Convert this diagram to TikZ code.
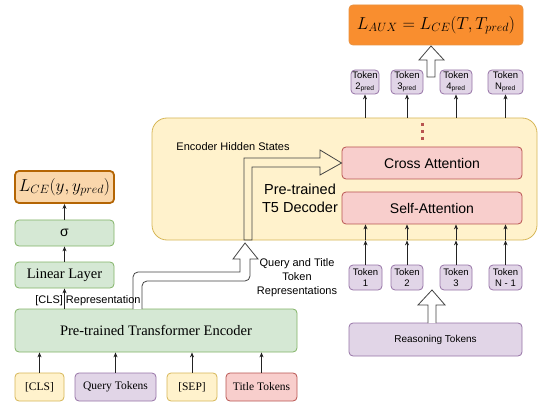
\documentclass[tikz,border=0pt]{standalone}
\usepackage{fontspec}
\setmainfont{Liberation Serif}
\setsansfont{Liberation Sans}
\usetikzlibrary{arrows.meta}
\definecolor{gfill}{HTML}{D5E8D4}\definecolor{gline}{HTML}{82B366}
\definecolor{yfill}{HTML}{FFF2CC}\definecolor{yline}{HTML}{D6B656}
\definecolor{pfill}{HTML}{E1D5E7}\definecolor{pline}{HTML}{9673A6}
\definecolor{rfill}{HTML}{F8CECC}\definecolor{rline}{HTML}{B85450}
\definecolor{ofill}{HTML}{FAD7AC}\definecolor{oline}{HTML}{B46504}
\definecolor{afill}{HTML}{F98E2F}\definecolor{aline}{HTML}{E8913F}
\definecolor{ink}{HTML}{222222}
\begin{document}
\begin{tikzpicture}[x=1pt,y=-1pt,
  base/.style={draw, rounded corners=4pt, line width=0.8pt, inner sep=0pt, align=center},
  gbox/.style={base, fill=gfill, draw=gline},
  ybox/.style={base, fill=yfill, draw=yline},
  pbox/.style={base, fill=pfill, draw=pline},
  rbox/.style={base, fill=rfill, draw=rline},
  serifbig/.style={font=\rmfamily\fontsize{14.5}{16}\selectfont},
  serifsm/.style={font=\rmfamily\fontsize{11.5}{13}\selectfont},
  sansbig/.style={font=\sffamily\fontsize{14}{16}\selectfont},
  sanslbl/.style={font=\sffamily\fontsize{11}{14}\selectfont, align=center, inner sep=0pt},
  sanstok/.style={font=\sffamily\fontsize{9.5}{10.5}\selectfont},
  arr/.style={draw=ink, line width=0.8pt, -{Stealth[length=5pt,width=4pt]}},
  hollow/.style={draw=ink!85, line width=0.8pt},
]
\useasboundingbox (0,0) rectangle (538,406);

% ---------- left column ----------
\node[base, fill=ofill, draw=oline, line width=1.8pt, minimum width=99, minimum height=32] (lce) at (64.5,187)
  {\fontsize{17.5}{19}\selectfont$L_{CE}(y, y_{pred})$};
\node[gbox, sansbig, minimum width=99, minimum height=26] (sig) at (64.5,233) {σ};
\node[gbox, serifbig, minimum width=99, minimum height=26] (lin) at (64.5,275) {Linear Layer};
\node[gbox, serifbig, minimum width=282, minimum height=43] (enc) at (156,330.5) {Pre-trained Transformer Encoder};

\node[ybox, serifsm, minimum width=49, minimum height=28] (cls) at (39.5,387) {[CLS]};
\node[pbox, serifsm, minimum width=81, minimum height=28] (qry) at (115.5,387) {Query Tokens};
\node[ybox, serifsm, minimum width=50, minimum height=28] (sep) at (192,387) {[SEP]};
\node[rbox, serifsm, minimum width=71, minimum height=28] (ttl) at (261.5,387) {Title Tokens};

\foreach \n in {cls,qry,sep,ttl}
  \draw[arr] (\n.north) -- (\n.north |- enc.south);
\draw[arr] (lin.south |- enc.north) -- (lin.south);
\draw[arr] (sig.north) -- (lce.south);
\draw[arr] (lin.north) -- (sig.south);

% ---------- decoder ----------
\node[draw=yline, fill=yfill, line width=0.8pt, rounded corners=15pt, minimum width=385, minimum height=122] (dec) at (344.5,179) {};
\node[rbox, sansbig, minimum width=180, minimum height=32] (cross) at (432,163) {Cross Attention};
\node[rbox, sansbig, minimum width=180, minimum height=32] (self) at (432,208) {Self-Attention};
\node[font=\sffamily\fontsize{14.5}{18}\selectfont, align=center, inner sep=0pt] (t5) at (300,198) {Pre-trained\\T5 Decoder};
\node[sanslbl] (ehs) at (233,147) {Encoder Hidden States};
\draw[draw=rline, line width=3pt, dash pattern=on 3.5pt off 3.5pt] (422,123) -- (422,143);

% input tokens
\node[pbox, sanstok, minimum width=33, minimum height=25] (t1) at (365.5,277.5) {Token\\1};
\node[pbox, sanstok, minimum width=32, minimum height=25] (t2) at (407,277.5) {Token\\2};
\node[pbox, sanstok, minimum width=32, minimum height=25] (t3) at (456,277.5) {Token\\3};
\node[pbox, sanstok, minimum width=33, minimum height=25] (tn) at (505.5,277.5) {Token\\N - 1};
\node[pbox, font=\sffamily\fontsize{10}{12}\selectfont, minimum width=173, minimum height=33] (rsn) at (435.5,339.5) {Reasoning Tokens};
\foreach \n in {t1,t2,t3,tn}{
  \draw[arr] (\n.north) -- (\n.north |- dec.south);
  \draw[arr] (\n.north |- dec.south) -- (\n.north |- self.south);
}

% output tokens
\node[pbox, sanstok, minimum width=28, minimum height=24] (p2) at (365,82) {Token\\2\textsubscript{pred}};
\node[pbox, sanstok, minimum width=32, minimum height=24] (p3) at (407,82) {Token\\3\textsubscript{pred}};
\node[pbox, sanstok, minimum width=32, minimum height=24] (p4) at (456,82) {Token\\4\textsubscript{pred}};
\node[pbox, sanstok, minimum width=35, minimum height=24] (pn) at (505.5,82) {Token\\N\textsubscript{pred}};
\foreach \n in {p2,p3,p4,pn}
  \draw[arr] (\n.south |- dec.north) -- (\n.south);
\node[base, fill=afill, draw=aline, minimum width=174, minimum height=40] (laux) at (436,25)
  {\fontsize{17.5}{19}\selectfont$L_{AUX} = L_{CE}(T, T_{pred})$};

% ---------- hollow arrows ----------
% encoder -> decoder
\filldraw[hollow, fill=white] (133,309) [rounded corners=5pt] -- (133,272) [sharp corners] -- (240,272) -- (240,259) -- (233,259) -- (245,243) -- (258,259) -- (250,259) [rounded corners=5pt] -- (250,281) -- (142,281) [sharp corners] -- (142,309);
% hidden states -> cross attention
\draw[hollow] (244,240) -- (244,158) -- (320,158) -- (320,150) -- (cross.west) -- (320,175) -- (320,167) -- (252,167) -- (252,240) -- cycle;
\node[sanslbl] (qtr) at (297,278) {Query and Title\\Token\\Representations};
\node[sanslbl] (clsrep) at (88,301) {[CLS] Representation};
% reasoning -> tokens
\filldraw[hollow, fill=white] (428,323) -- (428,305) -- (418,305) -- (432,290) -- (445,305) -- (436,305) -- (436,323);
% pred tokens -> loss
\filldraw[hollow, fill=white] (427,77) -- (427,60) -- (419,60) -- (431,46) -- (444,60) -- (435,60) -- (435,77) -- cycle;
\end{tikzpicture}
\end{document}
